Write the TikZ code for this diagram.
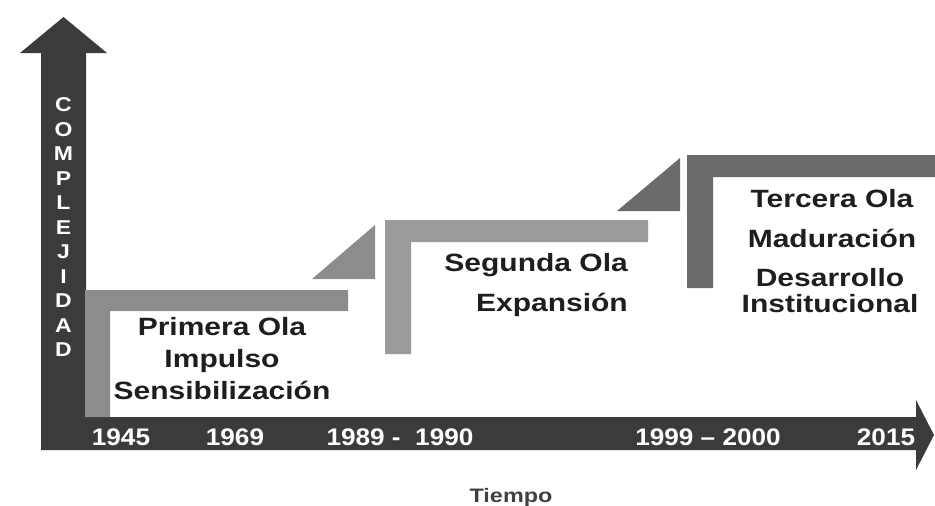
\documentclass[tikz,border=0pt]{standalone}
\usepackage{fontspec}
\setmainfont{Liberation Sans}
\newfontfamily\widefont{Liberation Sans}[FakeStretch=1.2]
\newfontfamily\yearfont{Liberation Sans}[FakeStretch=1.09]
\newfontfamily\vertfont{Liberation Sans}[FakeStretch=1.15]
\definecolor{axisdark}{HTML}{3B3B3B}
\definecolor{waveone}{HTML}{8C8C8C}
\definecolor{wavetwo}{HTML}{9B9B9B}
\definecolor{wavethree}{HTML}{6B6B6B}
\definecolor{txtdark}{HTML}{1E1E1E}
\tikzset{
  wavelabel/.style={anchor=base, inner sep=0pt, text=txtdark, font=\widefont\bfseries\fontsize{25}{30}\selectfont},
  yearlabel/.style={anchor=base, inner sep=0pt, text=white, font=\yearfont\bfseries\fontsize{24}{28}\selectfont},
}
\begin{document}
\begin{tikzpicture}[x=1pt,y=-1pt]
\useasboundingbox (0,0) rectangle (935,506);
% axes
\fill[axisdark] (41,450) -- (41,53) -- (20,53) -- (63.5,17) -- (107,53) -- (86,53)
  -- (86,417) -- (916,417) -- (916,400) -- (934,435) -- (916,470) -- (916,450) -- cycle;
% first wave
\fill[waveone] (85,290) -- (348,290) -- (348,311) -- (110,311) -- (110,417) -- (85,417) -- cycle;
\fill[waveone] (312,279) -- (375,225) -- (375,279) -- cycle;
% second wave
\fill[wavetwo] (385,220) -- (648,220) -- (648,242) -- (411,242) -- (411,354) -- (385,354) -- cycle;
\fill[wavethree] (617,211) -- (680,158) -- (680,211) -- cycle;
% third wave
\fill[wavethree] (687,155) -- (935,155) -- (935,177) -- (713,177) -- (713,288) -- (687,288) -- cycle;
% vertical label
\node[inner sep=0pt, text=white, align=center, font=\vertfont\bfseries\fontsize{20}{24.5}\selectfont]
  (complejidad) at (63.5,227.5) {C\\O\\M\\P\\L\\E\\J\\I\\D\\A\\D};
% wave labels
\node[wavelabel] (p1) at (222,335) {Primera Ola};
\node[wavelabel] (p2) at (222,367) {Impulso};
\node[wavelabel] (p3) at (222,399) {Sensibilización};
\node[wavelabel, anchor=base east] (s1) at (628,271) {Segunda Ola};
\node[wavelabel, anchor=base east] (s2) at (628,311) {Expansión};
\node[wavelabel] (t1) at (832,207) {Tercera Ola};
\node[wavelabel] (t2) at (832,247) {Maduración};
\node[wavelabel] (t3) at (830,286) {Desarrollo};
\node[wavelabel] (t4) at (830,312) {Institucional};
% years
\node[yearlabel] (y1945) at (121,445) {1945};
\node[yearlabel] (y1969) at (235,445) {1969};
\node[yearlabel] (y1989) at (400,445) {1989 -\ \ 1990};
\node[yearlabel] (y1999) at (708,445) {1999 – 2000};
\node[yearlabel] (y2015) at (886,445) {2015};
% time label
\node[anchor=base, inner sep=0pt, text=txtdark!85, font=\widefont\bfseries\fontsize{19.5}{22}\selectfont] (tiempo) at (511,502) {Tiempo};
\end{tikzpicture}
\end{document}
